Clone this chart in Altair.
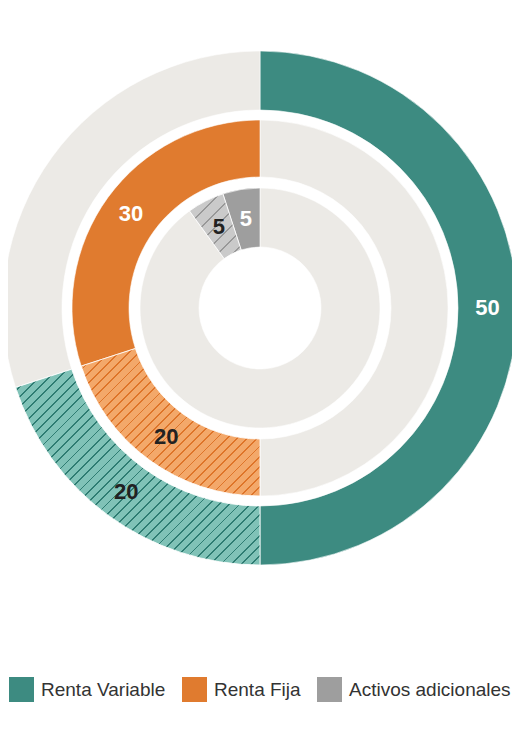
import math
import altair as alt
import pandas as pd

# ---------------- data ----------------
series = ["Renta Variable", "Renta Fija", "Activos adicionales"]
valores_solidos = [50, 30, 5]
valores_rayados = [20, 20, 5]
total_anillo = 100
orden_segmentos = [
    ["solido", "rayado", "resto"],
    ["resto", "rayado", "solido"],
    ["resto", "rayado", "solido"],
]

# ---------------- styles ----------------
color_solido = ["#3d8b81", "#e07b2f", "#9e9e9e"]
color_rayado_fondo = ["#80c2b7", "#f3a86a", "#cacaca"]
color_rayado_linea = ["#2e7c72", "#de7429", "#989898"]
color_resto = "#eceae6"
radios = [(257, 198), (188, 131), (120, 61)]
separacion_rayas = [7.2, 7.2, 10]
grosor_raya = [0.18, 0.18, 0.14]
cx, cy = 252, 300
fuente = "Liberation Sans"

filas = []
for i, serie in enumerate(series):
    valores = {
        "solido": valores_solidos[i],
        "rayado": valores_rayados[i],
        "resto": total_anillo - valores_solidos[i] - valores_rayados[i],
    }
    acumulado = 0
    for tipo in orden_segmentos[i]:
        v = valores[tipo]
        filas.append({
            "anillo": i, "serie": serie, "tipo": tipo, "valor": v,
            "inicio": acumulado, "fin": acumulado + v, "medio": acumulado + v / 2,
            "clase": serie if tipo == "solido" else "Resto",
        })
        acumulado += v
df = pd.DataFrame(filas)

theta_scale = alt.Scale(domain=[0, total_anillo], range=[0, 2 * math.pi])


def rayado(i):
    """Diagonal stripe fill built as a hard-stop linear gradient."""
    r_ext, r_int = radios[i]
    fila = df[(df.anillo == i) & (df.tipo == "rayado")].iloc[0]
    a0 = fila.inicio / total_anillo * 2 * math.pi
    a1 = fila.fin / total_anillo * 2 * math.pi
    xs, ys = [], []
    for k in range(201):
        a = a0 + (a1 - a0) * k / 200
        for r in (r_ext, r_int):
            xs.append(r * math.sin(a))
            ys.append(-r * math.cos(a))
    W = max(xs) - min(xs)
    H = max(ys) - min(ys)
    if W >= H:
        p, q = 1.0, H / W
    else:
        p, q = W / H, 1.0
    tmax = (p + q) / (p * p + q * q)
    p, q = p * tmax, q * tmax
    k = p / W
    D = (p * p + q * q) / (k * math.sqrt(2))
    n = max(1, round(D / separacion_rayas[i]))
    f = grosor_raya[i]
    linea, fondo = color_rayado_linea[i], color_rayado_fondo[i]
    stops = []
    for j in range(n):
        o0, o1, o2 = j / n, (j + f) / n, (j + 1) / n
        stops += [
            {"offset": o0, "color": linea},
            {"offset": o1, "color": linea},
            {"offset": o1, "color": fondo},
            {"offset": o2, "color": fondo},
        ]
    return {"gradient": "linear", "x1": 0, "y1": 0, "x2": p, "y2": q, "stops": stops}


color_enc = alt.Color(
    "clase:N",
    scale=alt.Scale(domain=series + ["Resto"], range=color_solido + [color_resto]),
    legend=alt.Legend(
        values=series, title=None, orient="none", direction="horizontal",
        legendX=1, legendY=669, padding=0,
        symbolType="square", symbolSize=625, symbolStrokeWidth=0, symbolOpacity=1,
        labelFont=fuente, labelFontSize=19, labelColor="#333333", labelLimit=400,
        labelOffset=7, columnPadding=16,
    ),
)

base = alt.Chart(df).encode(
    theta=alt.Theta("inicio:Q", scale=theta_scale, stack=None),
    theta2="fin:Q",
    x=alt.value(cx),
    y=alt.value(cy),
)

capas = []
for i in range(len(series)):
    r_ext, r_int = radios[i]
    capas.append(
        base.transform_filter((alt.datum.anillo == i) & (alt.datum.tipo != "rayado"))
        .mark_arc(radius=r_ext, radius2=r_int, stroke="white", strokeWidth=0.6)
        .encode(color=color_enc)
    )
    capas.append(
        base.transform_filter((alt.datum.anillo == i) & (alt.datum.tipo == "rayado"))
        .mark_arc(radius=r_ext, radius2=r_int, fill=rayado(i), stroke="white",
                  strokeWidth=1, strokeOpacity=0.85)
    )

for i in range(len(series)):
    r_ext, r_int = radios[i]
    capas.append(
        alt.Chart(df)
        .transform_filter((alt.datum.anillo == i) & (alt.datum.tipo != "resto"))
        .mark_text(radius=(r_ext + r_int) / 2, font=fuente, fontSize=22,
                   fontWeight="bold", align="center", baseline="middle")
        .encode(
            theta=alt.Theta("medio:Q", scale=theta_scale, stack=None),
            text="valor:Q",
            color=alt.condition(alt.datum.tipo == "solido",
                                alt.value("white"), alt.value("#222222")),
            x=alt.value(cx),
            y=alt.value(cy),
        )
    )

chart = (
    alt.layer(*capas)
    .properties(width=504, height=700, padding=0,
                autosize=alt.AutoSizeParams(type="none"))
    .configure_view(stroke=None)
)

chart.save("out.html", embed_options={"renderer": "svg", "actions": False})
